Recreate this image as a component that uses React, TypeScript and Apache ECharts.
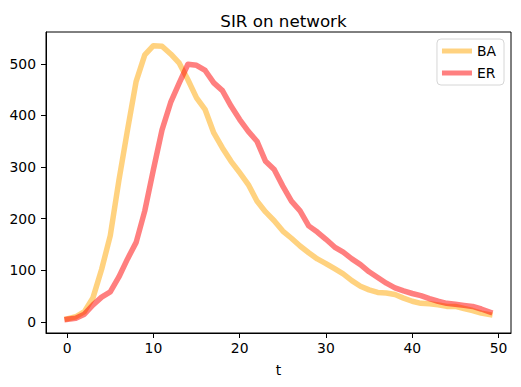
import React, { useEffect, useRef } from "react";
import * as echarts from "echarts";

const tValues: number[] = Array.from({ length: 50 }, (_, i) => i);

const baValues: number[] = [
  6, 10, 20, 47, 102, 167, 274, 372, 466, 517,
  535, 534, 519, 501, 469, 434, 411, 366, 337, 311,
  289, 266, 234, 213, 196, 176, 162, 147, 134, 122,
  113, 103, 93, 80, 69, 62, 57, 56, 53, 46,
  40, 36, 35, 33, 30, 30, 26, 22, 17, 14,
];

const erValues: number[] = [
  5, 7, 15, 33, 48, 58, 87, 122, 154, 215,
  295, 372, 425, 463, 499, 497, 487, 463, 448, 418,
  392, 369, 350, 311, 295, 263, 234, 215, 186, 174,
  160, 145, 135, 122, 111, 97, 86, 75, 66, 60,
  55, 51, 45, 40, 36, 34, 32, 30, 25, 19,
];

const xTicks: number[] = [0, 10, 20, 30, 40, 50];
const yTicks: number[] = [0, 100, 200, 300, 400, 500];

const FONT = "DejaVu Sans";

export default function App() {
  const ref = useRef<HTMLDivElement>(null);
  useEffect(() => {
    if (!ref.current) return;
    const chart = echarts.init(ref.current, undefined, { renderer: "svg" });
    const lineCommon = {
      type: "line",
      showSymbol: false,
      symbol: "none",
      smooth: false,
      lineStyle: { width: 5.5, opacity: 0.5, join: "round", cap: "square" },
    };
    chart.setOption({
      animation: false,
      backgroundColor: "#ffffff",
      textStyle: { fontFamily: FONT },
      title: {
        text: "SIR on network",
        left: 278.5,
        textAlign: "center",
        top: 7,
        textStyle: { fontFamily: FONT, fontSize: 16.7, fontWeight: "normal", color: "#000" },
      },
      legend: {
        orient: "vertical",
        right: 17,
        top: 39,
        icon: "rect",
        itemWidth: 30,
        itemHeight: 5,
        itemGap: 8,
        padding: [5, 8, 5, 5],
        backgroundColor: "rgba(255,255,255,0.8)",
        borderColor: "#d6d6d6",
        borderWidth: 1,
        borderRadius: 4,
        textStyle: { fontFamily: FONT, fontSize: 13.9, color: "#000" },
        data: [
          { name: "BA", itemStyle: { color: "#FFD280" } },
          { name: "ER", itemStyle: { color: "#FF8080" } },
        ],
      },
      grid: {
        left: 46,
        right: 10,
        top: 32,
        bottom: 54,
        containLabel: false,
        outerBoundsMode: "none",
        show: true,
        borderColor: "#000",
        borderWidth: 1,
        backgroundColor: "transparent",
      },
      xAxis: {
        type: "value",
        min: -2.45,
        max: 51.45,
        name: "t",
        nameLocation: "middle",
        nameGap: 30,
        nameTextStyle: { fontFamily: FONT, fontSize: 13.9, color: "#000" },
        axisLine: { show: true, onZero: false, lineStyle: { color: "#000", width: 1 } },
        axisTick: { show: true, length: 5, lineStyle: { color: "#000" }, customValues: xTicks },
        axisLabel: {
          fontFamily: FONT,
          fontSize: 13.9,
          color: "#000",
          margin: 8,
          customValues: xTicks,
        },
        splitLine: { show: false },
      },
      yAxis: {
        type: "value",
        min: -21.5,
        max: 561.5,
        axisLine: { show: true, onZero: false, lineStyle: { color: "#000", width: 1 } },
        axisTick: { show: true, length: 5, lineStyle: { color: "#000" }, customValues: yTicks },
        axisLabel: {
          fontFamily: FONT,
          fontSize: 13.9,
          color: "#000",
          margin: 10,
          customValues: yTicks,
        },
        splitLine: { show: false },
      },
      series: [
        {
          ...lineCommon,
          name: "BA",
          color: "orange",
          lineStyle: { ...lineCommon.lineStyle, color: "orange" },
          data: tValues.map((t, i) => [t, baValues[i]]),
        },
        {
          ...lineCommon,
          name: "ER",
          color: "red",
          lineStyle: { ...lineCommon.lineStyle, color: "red" },
          data: tValues.map((t, i) => [t, erValues[i]]),
        },
      ],
    });
    return () => chart.dispose();
  }, []);
  return (
    <div
      ref={ref}
      style={{ position: "fixed", left: 0, top: 0, width: 521, height: 387, background: "#fff" }}
    />
  );
}
